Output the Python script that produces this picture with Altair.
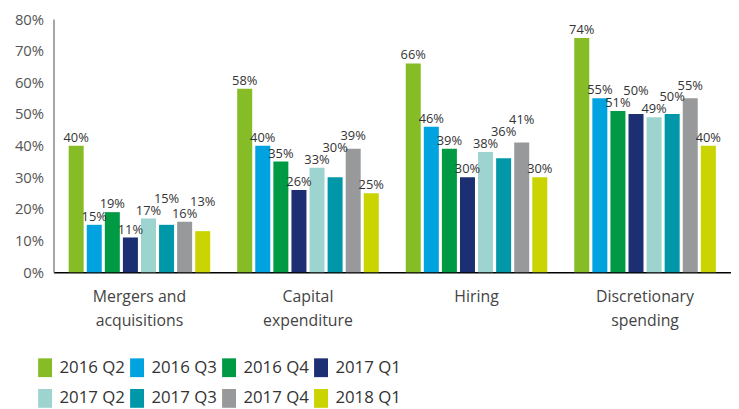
import altair as alt
import pandas as pd

categories = ["Mergers and\nacquisitions", "Capital\nexpenditure", "Hiring", "Discretionary\nspending"]
series = ["2016 Q2", "2016 Q3", "2016 Q4", "2017 Q1", "2017 Q2", "2017 Q3", "2017 Q4", "2018 Q1"]
colors = ["#86bc25", "#00a3e0", "#009a44", "#1b2f72", "#9dd4cf", "#0097a9", "#97999b", "#c9d400"]
y_ticks = [0, 0.1, 0.2, 0.3, 0.4, 0.5, 0.6, 0.7, 0.8]

mergers = [40, 15, 19, 11, 17, 15, 16, 13]
capex = [58, 40, 35, 26, 33, 30, 39, 25]
hiring = [66, 46, 39, 30, 38, 36, 41, 30]
discretionary = [74, 55, 51, 50, 49, 50, 55, 40]

PLOT_H = 256
Y_MAX = 0.8
PX_PER_PCT = PLOT_H / (Y_MAX * 100)
GAP = 4       # px between bar top and label baseline
LABEL_H = 12  # px: minimum vertical separation of neighbouring labels

rows = []
for cat, vals in zip(categories, [mergers, capex, hiring, discretionary]):
    prev = None
    for s, v in zip(series, vals):
        base = v * PX_PER_PCT + GAP
        if prev is not None and abs(base - prev) < LABEL_H - 1:
            base = prev + LABEL_H
        prev = base
        rows.append({"category": cat, "series": s, "value": v / 100.0,
                     "label": f"{v}%", "label_y": base / PX_PER_PCT / 100.0})
df = pd.DataFrame(rows)

FONT = "Open Sans"

x = alt.X("category:N", sort=categories, title=None,
          scale=alt.Scale(paddingInner=0.16, paddingOuter=0.09),
          axis=alt.Axis(labelExpr="split(datum.label, '\\n')", labelAngle=0,
                        labelFontSize=16, labelColor="#444", labelFont=FONT,
                        labelPadding=17, labelLineHeight=24, ticks=False,
                        domainColor="#000", domainWidth=1.5))
xo = alt.XOffset("series:N", sort=series, scale=alt.Scale(paddingInner=0.17, paddingOuter=0))

y_axis = alt.Axis(format=".0%", values=y_ticks, labelOverlap=False, labelFlush=False,
                  grid=False, ticks=False, labelFontSize=15, labelColor="#555",
                  labelFont=FONT, labelPadding=10, domainColor="#888", domainWidth=1.5)
y_scale = alt.Scale(domain=[0, Y_MAX])

base = alt.Chart(df)

bars = base.mark_bar().encode(
    x=x,
    xOffset=xo,
    y=alt.Y("value:Q", title=None, scale=y_scale, axis=y_axis),
    color=alt.Color("series:N", sort=series,
                    scale=alt.Scale(domain=series, range=colors),
                    legend=alt.Legend(title=None, orient="none", legendX=-18, legendY=343,
                                      columns=4, direction="horizontal",
                                      symbolType="M-0.74,-1H0.74V1H-0.74Z", symbolSize=361,
                                      symbolStrokeWidth=0, symbolOpacity=1,
                                      labelFontSize=17, labelFont=FONT, labelColor="#333",
                                      labelOffset=5, columnPadding=2, rowPadding=12)),
)

labels = base.mark_text(baseline="alphabetic", fontSize=13, font=FONT, color="#333").encode(
    x=x,
    xOffset=xo,
    y=alt.Y("label_y:Q", title=None, scale=y_scale, axis=y_axis),
    text="label:N",
)

chart = (bars + labels).properties(
    width=685, height=PLOT_H,
    autosize=alt.AutoSizeParams(type="none"),
    padding={"left": 46, "top": 9, "right": 0, "bottom": 136},
).configure_view(stroke=None)

chart.save("out.html", embed_options={"renderer": "svg", "actions": False})
